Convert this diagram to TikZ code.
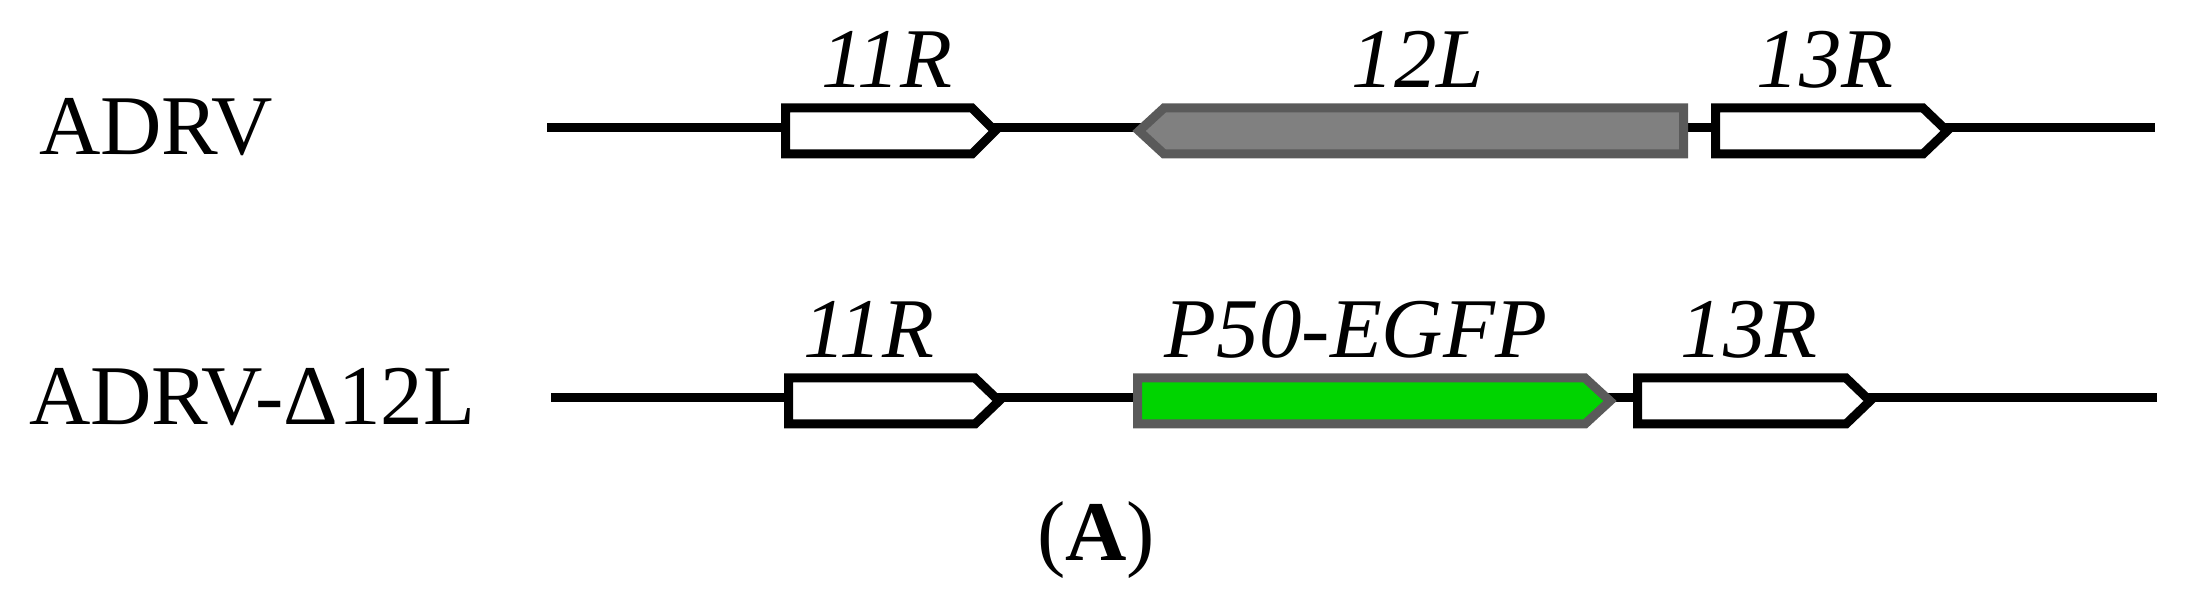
\documentclass[tikz,border=0pt]{standalone}
\usepackage{fontspec}
\setmainfont{Liberation Serif}
\definecolor{geneedge}{HTML}{5A5A5A}
\definecolor{genegray}{HTML}{808080}
\definecolor{genegreen}{HTML}{00D400}
\begin{document}
\begin{tikzpicture}[x=1pt,y=1pt,
  txt/.style={inner sep=0pt,font=\fontsize{85}{100}\selectfont},
  lab/.style={txt,anchor=base,font=\fontsize{85}{100}\selectfont\itshape},
  backbone/.style={line width=9pt,black},
  whitegene/.style={draw=black,fill=white,line width=9pt,line join=miter},
  graygene/.style={draw=geneedge,fill=genegray,line width=9pt,line join=miter},
  greengene/.style={draw=geneedge,fill=genegreen,line width=9pt,line join=miter}]
\useasboundingbox (0,0) rectangle (2185,607);
% row names
\node[txt,anchor=base west] (n1) at (39,452) {ADRV};
\node[txt,anchor=base west] (n2) at (29,182) {ADRV-Δ12L};
% top row
\coordinate (t0) at (547,479);
\coordinate (t1) at (2155,479);
\draw[backbone] (t0) -- (t1);
\draw[whitegene] (785.5,499) -- (972,499) -- (995,476) -- (972,453) -- (785.5,453) -- cycle;
\draw[graygene] (1139,476) -- (1164,499) -- (1683.5,499) -- (1683.5,453) -- (1164,453) -- cycle;
\draw[whitegene] (1715.5,499) -- (1923,499) -- (1947,476) -- (1923,453) -- (1715.5,453) -- cycle;
\node[lab] (l11a) at (887,519) {11R};
\node[lab] (l12a) at (1418,519) {12L};
\node[lab] (l13a) at (1825,519) {13R};
% bottom row
\coordinate (b0) at (551,209);
\coordinate (b1) at (2157,209);
\draw[backbone] (b0) -- (b1);
\draw[whitegene] (788.5,229) -- (975,229) -- (999,206) -- (975,183) -- (788.5,183) -- cycle;
\draw[greengene] (1137.5,229) -- (1585,229) -- (1610,206) -- (1585,183) -- (1137.5,183) -- cycle;
\draw[whitegene] (1637.5,229) -- (1846,229) -- (1870,206) -- (1846,183) -- (1637.5,183) -- cycle;
\node[lab] (l11b) at (869,249) {11R};
\node[lab] (lp50) at (1356,249) {P50-EGFP};
\node[lab] (l13b) at (1749,249) {13R};
% panel label
\node[txt,anchor=base] (pa) at (1096,46) {(\textbf{A})};
\end{tikzpicture}
\end{document}
